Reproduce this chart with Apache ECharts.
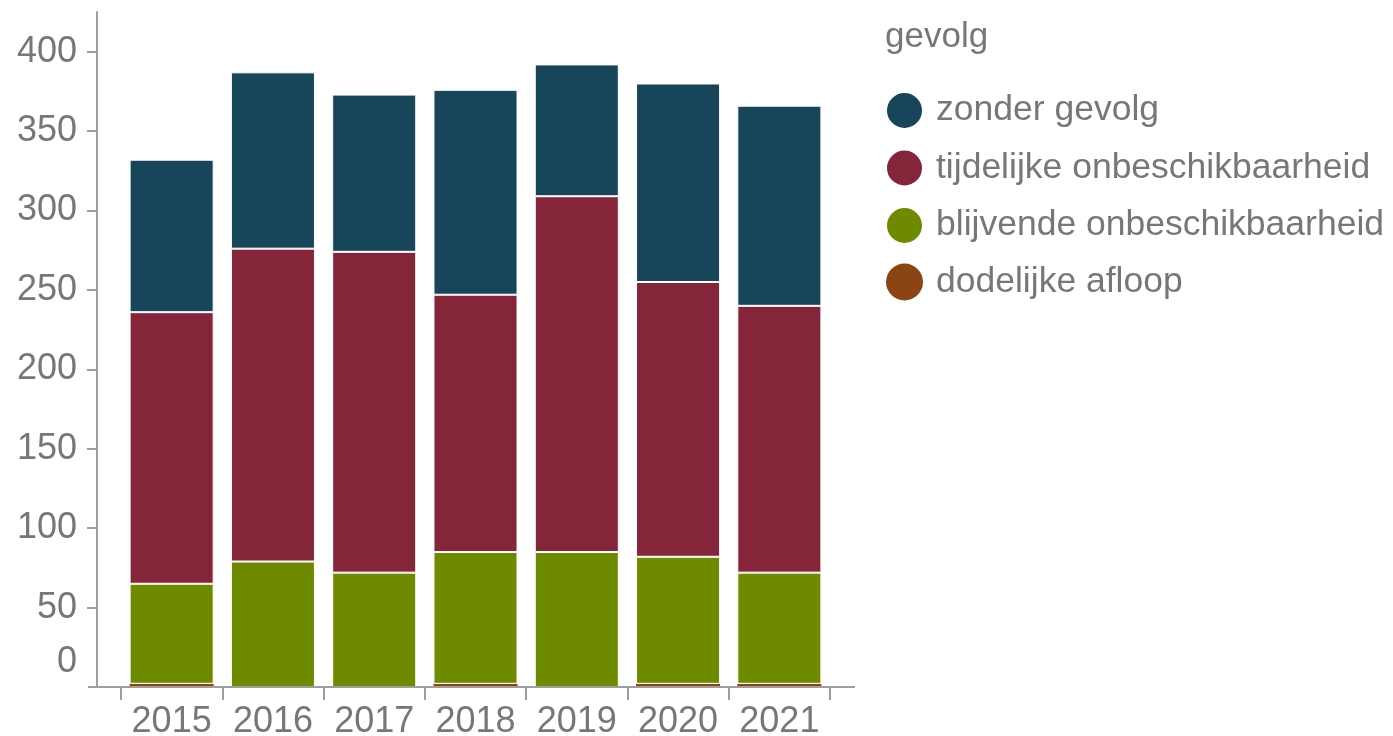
<!DOCTYPE html>
<html>
<head>
<meta charset="utf-8">
<script src="https://cdn.jsdelivr.net/npm/echarts@6/dist/echarts.min.js"></script>
<style>
html,body{margin:0;padding:0;background:#fff;}
#chart{width:1393px;height:736px;}
</style>
</head>
<body>
<div id="chart"></div>
<script>
const categories = ['2015','2016','2017','2018','2019','2020','2021'];
const seriesNames = ['zonder gevolg','tijdelijke onbeschikbaarheid','blijvende onbeschikbaarheid','dodelijke afloop'];
const dodelijke = [2, 0, 0, 2, 0, 2, 2];
const blijvende = [63, 79, 72, 83, 85, 80, 70];
const tijdelijke = [171, 197, 202, 162, 224, 173, 168];
const zonder = [96, 111, 99, 129, 83, 125, 126];
const yLabelValues = [0, 50, 100, 150, 200, 250, 300, 350, 400];
const yTickValues = [50, 100, 150, 200, 250, 300, 350, 400];
const legendTitle = 'gevolg';

const colors = {
  'zonder gevolg': '#17455a',
  'tijdelijke onbeschikbaarheid': '#84253a',
  'blijvende onbeschikbaarheid': '#6e8b00',
  'dodelijke afloop': '#8b4513'
};
const font = '"Liberation Sans", Arial, sans-serif';
const textColor = '#777777';
const axisColor = '#9e9e9e';

const chart = echarts.init(document.getElementById('chart'), null, {renderer: 'canvas'});

function barSeries(name, data, border) {
  return {
    name: name,
    type: 'bar',
    stack: 'total',
    data: data,
    barCategoryGap: '17%',
    itemStyle: {color: colors[name], borderColor: '#ffffff', borderWidth: border},
    emphasis: {disabled: true}
  };
}

const option = {
  animation: false,
  backgroundColor: '#ffffff',
  title: {
    text: legendTitle,
    left: 885,
    top: 20,
    padding: 0,
    textStyle: {fontFamily: font, fontSize: 35, fontWeight: 'normal', color: textColor}
  },
  legend: {
    orient: 'vertical',
    left: 885,
    top: 91,
    padding: 0,
    icon: 'circle',
    itemWidth: 37,
    itemHeight: 37,
    itemGap: 18.5,
    data: seriesNames,
    textStyle: {fontFamily: font, fontSize: 35.5, lineHeight: 37, color: textColor, padding: [0, 0, 0, 8]},
    selectedMode: false
  },
  grid: {left: 121, right: 563, top: 12, bottom: 49, containLabel: false, outerBoundsMode: 'none'},
  xAxis: {
    type: 'category',
    data: categories,
    boundaryGap: true,
    axisLine: {show: false},
    axisTick: {show: true, interval: 0, length: 13, lineStyle: {color: axisColor, width: 2}},
    axisLabel: {interval: 0, hideOverlap: false, fontFamily: font, fontSize: 36, color: textColor, margin: 17}
  },
  yAxis: {
    type: 'value',
    min: 0,
    max: 425,
    interval: 50,
    offset: 24,
    splitLine: {show: false},
    axisLine: {show: true, lineStyle: {color: axisColor, width: 2}},
    axisTick: {show: true, length: 10, customValues: yTickValues, lineStyle: {color: axisColor, width: 2}},
    axisLabel: {
      customValues: yLabelValues,
      fontFamily: font, fontSize: 36, color: textColor, margin: 20,
      formatter: function (v) { return v === 0 ? '{z|0}' : String(v); },
      rich: {z: {fontFamily: font, fontSize: 36, color: textColor, padding: [0, 0, 50, 0]}}
    }
  },
  graphic: [{
    type: 'line',
    shape: {x1: 88, y1: 687, x2: 855, y2: 687},
    style: {stroke: axisColor, lineWidth: 2},
    silent: true,
    z: 10
  }],
  series: [
    barSeries('dodelijke afloop', dodelijke, 0),
    barSeries('blijvende onbeschikbaarheid', blijvende, 1),
    barSeries('tijdelijke onbeschikbaarheid', tijdelijke, 1),
    barSeries('zonder gevolg', zonder, 1)
  ]
};
chart.setOption(option);
</script>
</body>
</html>
